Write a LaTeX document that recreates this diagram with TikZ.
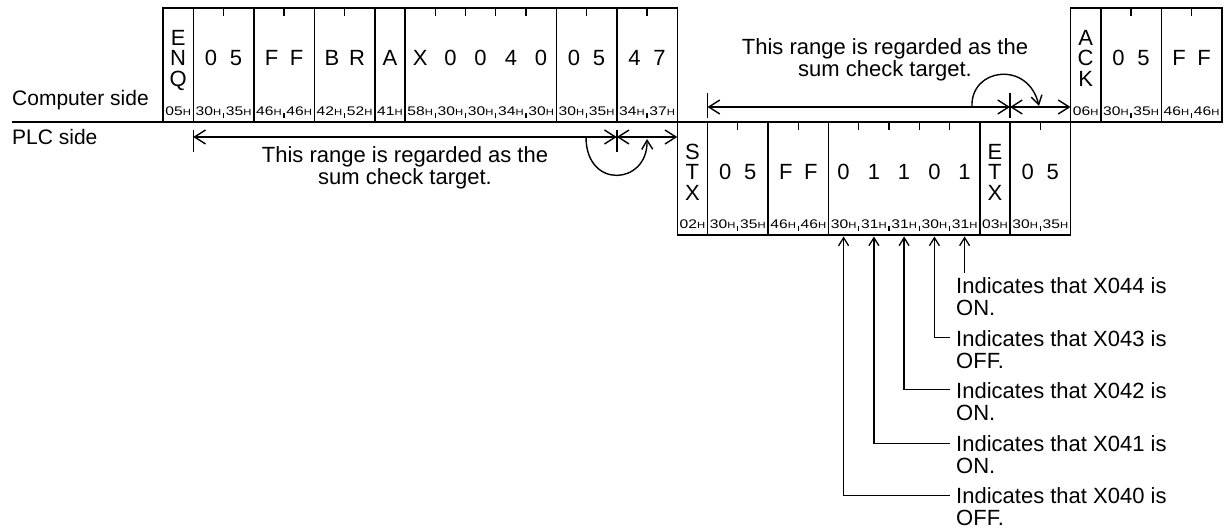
\documentclass[tikz,border=0pt]{standalone}
\usepackage{fontspec}
\usepackage{graphicx}
\setmainfont{Liberation Sans}
\usetikzlibrary{arrows.meta}
\newcommand\hexlbl[1]{\scalebox{1.25}[1]{\fontsize{12.5}{12.5}\selectfont #1\fontsize{9}{9}\selectfont H}}
\begin{document}
\begin{tikzpicture}[x=1pt,y=-1pt,
  frame/.style={line width=1.5pt},
  sep/.style={line width=1.8pt},
  tickline/.style={line width=1.3pt},
  big/.style={font=\fontsize{22}{22}\selectfont, inner sep=0pt, anchor=base},
  hex/.style={inner sep=0pt, anchor=base},
  txt/.style={font=\fontsize{22}{22}\selectfont, inner sep=0pt, align=center, anchor=north},
  side/.style={font=\fontsize{21}{21}\selectfont, inner sep=0pt, anchor=base west},
  lbl/.style={font=\fontsize{22}{22}\selectfont, inner sep=0pt, align=left, anchor=north west},
  rng/.style={line width=1.4pt, {Straight Barb[length=11pt,width=14pt]}-{Straight Barb[length=11pt,width=14pt]}},
  curv/.style={line width=1.4pt, -{Straight Barb[length=9pt,width=11pt]}},
  lead/.style={line width=1.3pt, -{Straight Barb[length=8pt,width=10pt]}},
]
\useasboundingbox (0,0) rectangle (1232,529);
% separator line
\draw[sep] (12,122) -- (1221.75,122);
\node[side] (cs) at (12,106) {Computer side};
\node[side] (ps) at (12,145) {PLC side};

% ---------- computer frame ----------
\draw[frame] (163,8) rectangle (677.25,122);
\foreach \k in {1,3,5,7,8,13,15} \draw[frame] ({163+\k*30.25},8) -- ++(0,114);
\foreach \k in {2,4,6,9,10,11,12,14,16} {
  \draw[tickline] ({163+\k*30.25},8) -- ++(0,8);
  \draw[tickline] ({163+\k*30.25},113) -- ++(0,5.5);
}
\foreach \h [count=\i] in {05,30,35,46,46,42,52,41,58,30,30,34,30,30,35,34,37}
  \node[hex] (th\i) at ({163+(\i-0.5)*30.25},116) {\hexlbl{\h}};
\node[big] (enq1) at (178.1,45.5) {E};
\node[big] (enq2) at (178.1,66) {N};
\node[big] (enq3) at (178.1,86.5) {Q};
\node[big] (c1a) at (211,66) {0};
\node[big] (c1b) at (236,66) {5};
\node[big] (c2a) at (271.5,66) {F};
\node[big] (c2b) at (296.5,66) {F};
\node[big] (c3a) at (332,66) {B};
\node[big] (c3b) at (357,66) {R};
\node[big] (c4) at (389.9,66) {A};
\node[big] (c5a) at (420.1,66) {X};
\node[big] (c5b) at (450.4,66) {0};
\node[big] (c5c) at (480.6,66) {0};
\node[big] (c5d) at (510.9,66) {4};
\node[big] (c5e) at (541.1,66) {0};
\node[big] (c6a) at (574,66) {0};
\node[big] (c6b) at (599,66) {5};
\node[big] (c7a) at (634.5,66) {4};
\node[big] (c7b) at (659.5,66) {7};

% ---------- PLC frame ----------
\draw[frame] (677.25,122) rectangle (1070.5,235);
\foreach \k in {1,3,5,10,11} \draw[frame] ({677.25+\k*30.25},122) -- ++(0,113);
\foreach \k in {2,4,6,7,8,9,12} {
  \draw[tickline] ({677.25+\k*30.25},122) -- ++(0,8);
  \draw[tickline] ({677.25+\k*30.25},226) -- ++(0,5.5);
}
\foreach \h [count=\i] in {02,30,35,46,46,30,31,31,30,31,03,30,35}
  \node[hex] (ph\i) at ({677.25+(\i-0.5)*30.25},229) {\hexlbl{\h}};
\node[big] (stx1) at (692.4,159.5) {S};
\node[big] (stx2) at (692.4,180) {T};
\node[big] (stx3) at (692.4,200.5) {X};
\node[big] (p1a) at (725.25,180) {0};
\node[big] (p1b) at (750.25,180) {5};
\node[big] (p2a) at (785.75,180) {F};
\node[big] (p2b) at (810.75,180) {F};
\node[big] (p3a) at (843.6,180) {0};
\node[big] (p3b) at (873.9,180) {1};
\node[big] (p3c) at (904.1,180) {1};
\node[big] (p3d) at (934.4,180) {0};
\node[big] (p3e) at (964.6,180) {1};
\node[big] (etx1) at (994.9,159.5) {E};
\node[big] (etx2) at (994.9,180) {T};
\node[big] (etx3) at (994.9,200.5) {X};
\node[big] (p4a) at (1027.75,180) {0};
\node[big] (p4b) at (1052.75,180) {5};

% ---------- ACK frame ----------
\draw[frame] (1070.5,8) rectangle (1221.75,122);
\foreach \k in {1,3} \draw[frame] ({1070.5+\k*30.25},8) -- ++(0,114);
\foreach \k in {2,4} {
  \draw[tickline] ({1070.5+\k*30.25},8) -- ++(0,8);
  \draw[tickline] ({1070.5+\k*30.25},113) -- ++(0,5.5);
}
\foreach \h [count=\i] in {06,30,35,46,46}
  \node[hex] (ah\i) at ({1070.5+(\i-0.5)*30.25},116) {\hexlbl{\h}};
\node[big] (ack1) at (1085.6,45.5) {A};
\node[big] (ack2) at (1085.6,66) {C};
\node[big] (ack3) at (1085.6,86.5) {K};
\node[big] (a1a) at (1118.5,66) {0};
\node[big] (a1b) at (1143.5,66) {5};
\node[big] (a2a) at (1179,66) {F};
\node[big] (a2b) at (1204,66) {F};

% ---------- sum check range (computer -> PLC) ----------
\coordinate (bl0) at (193.25,137);
\coordinate (bl1) at (616.75,137);
\coordinate (bl2) at (677.25,137);
\draw[rng] (bl0) -- (bl1);
\draw[rng] (bl1) -- (bl2);
\draw[frame] ([yshift=7pt]bl0) -- ([yshift=-15pt]bl0);
\draw[frame] ([yshift=7pt]bl1) -- ([yshift=-15pt]bl1);
\coordinate (cs1) at (586,137);
\coordinate (ce1) at (647,139);
\draw[curv] (cs1) .. controls (586,190) and (648,185) .. (ce1);
\node[txt] (s1) at (405,146) {This range is regarded as the\\sum check target.};

% ---------- sum check range (PLC -> computer) ----------
\coordinate (tr0) at (707.5,107);
\coordinate (tr1) at (1010,107);
\coordinate (tr2) at (1070.5,107);
\draw[rng] (tr0) -- (tr1);
\draw[rng] (tr1) -- (tr2);
\draw[frame] ([yshift=14pt]tr0) -- ([yshift=-11pt]tr0);
\draw[frame] ([yshift=14pt]tr1) -- ([yshift=-11pt]tr1);
\coordinate (cs2) at (972,107);
\coordinate (ce2) at (1039,106);
\draw[curv] (cs2) .. controls (970,68) and (1028,60) .. (ce2);
\node[txt] (s2) at (885,38.2) {This range is regarded as the\\sum check target.};

% ---------- bit labels ----------
\node[lbl] (l1) at (956,277.2) {Indicates that X044 is\\ON.};
\node[lbl] (l2) at (956,330.2) {Indicates that X043 is\\OFF.};
\node[lbl] (l3) at (956,382.2) {Indicates that X042 is\\ON.};
\node[lbl] (l4) at (956,435.7) {Indicates that X041 is\\ON.};
\node[lbl] (l5) at (956,487.7) {Indicates that X040 is\\OFF.};
\coordinate (b44) at (964.6,236.5);
\coordinate (b43) at (934.4,236.5);
\coordinate (b42) at (904.1,236.5);
\coordinate (b41) at (873.9,236.5);
\coordinate (b40) at (843.6,236.5);
\path ([yshift=4pt]l1.north west) coordinate (l1t);
\draw[lead] (l1t -| b44) -- (b44);
\draw[lead] ([xshift=-6pt,yshift=-7.5pt]l2.north west) -| (b43);
\draw[lead] ([xshift=-6pt,yshift=-7.5pt]l3.north west) -| (b42);
\draw[lead] ([xshift=-6pt,yshift=-7.5pt]l4.north west) -| (b41);
\draw[lead] ([xshift=-6pt,yshift=-7.5pt]l5.north west) -| (b40);
\end{tikzpicture}
\end{document}
